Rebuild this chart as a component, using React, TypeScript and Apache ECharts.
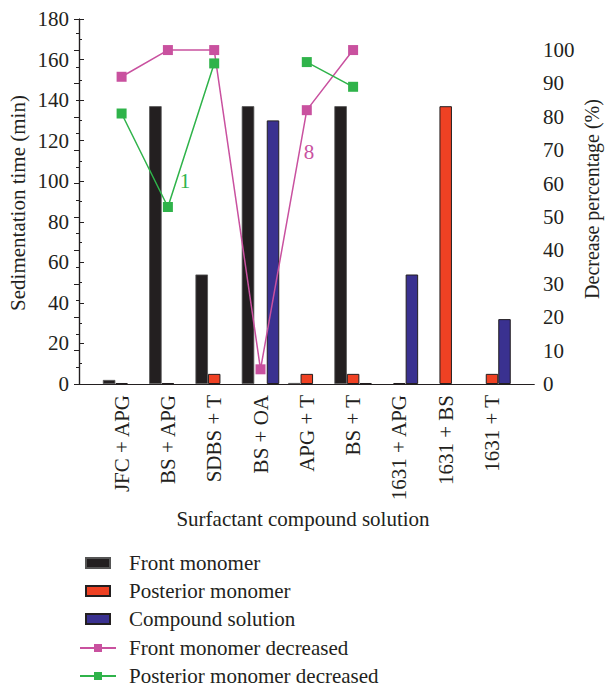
import React, { useEffect, useRef } from "react";
import * as echarts from "echarts";

const categories = [
  "JFC + APG",
  "BS + APG",
  "SDBS + T",
  "BS + OA",
  "APG + T",
  "BS + T",
  "1631 + APG",
  "1631 + BS",
  "1631 + T",
];
// Sedimentation time (min)
const frontMonomer = [2, 137, 54, 137, 0.5, 137, null, null, null];
const posteriorMonomer = [0.5, 0.5, 5, null, 5, 5, 0.5, 137, 5];
const compoundSolution = [null, null, null, 130, null, 0.5, 54, null, 32];
// Decrease percentage (%)
const frontDecreased = [92, 100, 100, 4.4, 82, 100, null, null, null];
const posteriorDecreased = [81, 53, 96, null, 96.4, 89, null, null, null];

const leftMin = 0;
const leftMax = 180;
const leftInterval = 20;
const rightMin = 0;
const rightMax = 109.3;
const rightInterval = 10;

const FONT = "'Liberation Serif', 'Times New Roman', serif";
const INK = "#231f20";
const RED = "#ef4123";
const BLUE = "#3a3190";
const MAGENTA = "#c9519f";
const GREEN = "#2fb34a";

export default function App() {
  const ref = useRef<HTMLDivElement>(null);
  useEffect(() => {
    document.body.style.margin = "0";
    if (!ref.current) return;
    const chart = echarts.init(ref.current, undefined, { renderer: "svg" });
    const frameGrid = { left: 79, top: 19, width: 455, height: 365 };
    const band = 46.3;
    const firstCenter = 121.6;
    const dataGrid = {
      left: firstCenter - band / 2,
      top: 19,
      width: band * categories.length,
      height: 365,
    };
    const labelStyle = { fontFamily: FONT, fontSize: 21, color: INK };
    const barCommon = {
      type: "bar",
      xAxisIndex: 2,
      yAxisIndex: 2,
      barWidth: 12.5,
      barGap: "0%",
    };
    const lineCommon = {
      type: "line",
      xAxisIndex: 2,
      yAxisIndex: 3,
      symbol: "rect",
      symbolSize: 10,
      connectNulls: false,
    };
    chart.setOption({
      animation: false,
      textStyle: { fontFamily: FONT },
      grid: [frameGrid, dataGrid],
      xAxis: [
        {
          gridIndex: 0,
          type: "value",
          min: 0,
          max: 1,
          position: "bottom",
          axisLine: { show: true, lineStyle: { color: INK, width: 1.2 } },
          axisTick: { show: false },
          axisLabel: { show: false },
          splitLine: { show: false },
        },
        {
          gridIndex: 0,
          type: "value",
          min: 0,
          max: 1,
          position: "top",
          axisLine: { show: true, lineStyle: { color: INK, width: 1.2 } },
          axisTick: { show: false },
          axisLabel: { show: false },
          splitLine: { show: false },
        },
        {
          gridIndex: 1,
          type: "category",
          data: categories,
          boundaryGap: true,
          position: "bottom",
          axisLine: { show: false },
          axisTick: { show: false },
          axisLabel: { ...labelStyle, rotate: 90, margin: 11, interval: 0 },
          splitLine: { show: false },
        },
      ],
      yAxis: [
        {
          gridIndex: 0,
          type: "value",
          position: "left",
          min: leftMin,
          max: leftMax,
          interval: leftInterval,
          axisLine: { show: true, lineStyle: { color: INK, width: 1.2 } },
          axisTick: { show: true, inside: true, length: 5, lineStyle: { color: INK } },
          minorTick: { show: true, splitNumber: 2, length: 3, lineStyle: { color: INK } },
          axisLabel: { ...labelStyle, margin: 10 },
          splitLine: { show: false },
        },
        {
          gridIndex: 0,
          type: "value",
          position: "right",
          min: rightMin,
          max: rightMax,
          interval: rightInterval,
          axisLine: { show: true, lineStyle: { color: INK, width: 1.2 } },
          axisTick: { show: true, inside: true, length: 5, lineStyle: { color: INK } },
          minorTick: { show: true, splitNumber: 2, length: 3, lineStyle: { color: INK } },
          axisLabel: { ...labelStyle, margin: 9, showMaxLabel: false },
          splitLine: { show: false },
        },
        { gridIndex: 1, type: "value", min: leftMin, max: leftMax, show: false },
        { gridIndex: 1, type: "value", min: rightMin, max: rightMax, show: false },
      ],
      legend: [
        {
          orient: "vertical",
          left: 85,
          top: 552,
          padding: 0,
          itemWidth: 24,
          itemHeight: 10,
          itemGap: 6,
          icon: "rect",
          data: ["Front monomer", "Posterior monomer", "Compound solution"],
          textStyle: { ...labelStyle, lineHeight: 22, padding: [0, 0, 0, 14] },
        },
        {
          orient: "vertical",
          left: 79,
          top: 637,
          padding: 0,
          itemWidth: 36,
          itemHeight: 10,
          itemGap: 6,
          data: ["Front monomer decreased", "Posterior monomer decreased"],
          textStyle: { ...labelStyle, lineHeight: 22, padding: [0, 0, 0, 8] },
        },
      ],
      graphic: [
        {
          type: "text",
          x: 18,
          y: 203,
          rotation: Math.PI / 2,
          style: {
            text: "Sedimentation time (min)",
            font: `21px ${FONT}`,
            fill: INK,
            textAlign: "center",
            textVerticalAlign: "middle",
          },
        },
        {
          type: "text",
          x: 592,
          y: 199,
          rotation: Math.PI / 2,
          style: {
            text: "Decrease percentage (%)",
            font: `20px ${FONT}`,
            fill: INK,
            textAlign: "center",
            textVerticalAlign: "middle",
          },
        },
        {
          type: "text",
          x: 303,
          y: 519,
          style: {
            text: "Surfactant compound solution",
            font: `21px ${FONT}`,
            fill: INK,
            textAlign: "center",
            textVerticalAlign: "middle",
          },
        },
        {
          type: "text",
          x: 185,
          y: 181,
          style: {
            text: "1",
            font: `21px ${FONT}`,
            fill: GREEN,
            textAlign: "center",
            textVerticalAlign: "middle",
          },
        },
        {
          type: "text",
          x: 309,
          y: 152,
          style: {
            text: "8",
            font: `21px ${FONT}`,
            fill: MAGENTA,
            textAlign: "center",
            textVerticalAlign: "middle",
          },
        },
      ],
      series: [
        {
          ...barCommon,
          name: "Front monomer",
          data: frontMonomer,
          itemStyle: { color: INK, borderColor: "#555", borderWidth: 0.8 },
        },
        {
          ...barCommon,
          name: "Posterior monomer",
          data: posteriorMonomer,
          itemStyle: { color: RED, borderColor: INK, borderWidth: 1 },
        },
        {
          ...barCommon,
          name: "Compound solution",
          data: compoundSolution,
          itemStyle: { color: BLUE, borderColor: INK, borderWidth: 1 },
        },
        {
          ...lineCommon,
          name: "Front monomer decreased",
          data: frontDecreased,
          itemStyle: { color: MAGENTA },
          lineStyle: { color: MAGENTA, width: 1.5 },
        },
        {
          ...lineCommon,
          name: "Posterior monomer decreased",
          data: posteriorDecreased,
          itemStyle: { color: GREEN },
          lineStyle: { color: GREEN, width: 1.5 },
        },
      ],
    });
    return () => chart.dispose();
  }, []);
  return <div ref={ref} style={{ width: 606, height: 688 }} />;
}
